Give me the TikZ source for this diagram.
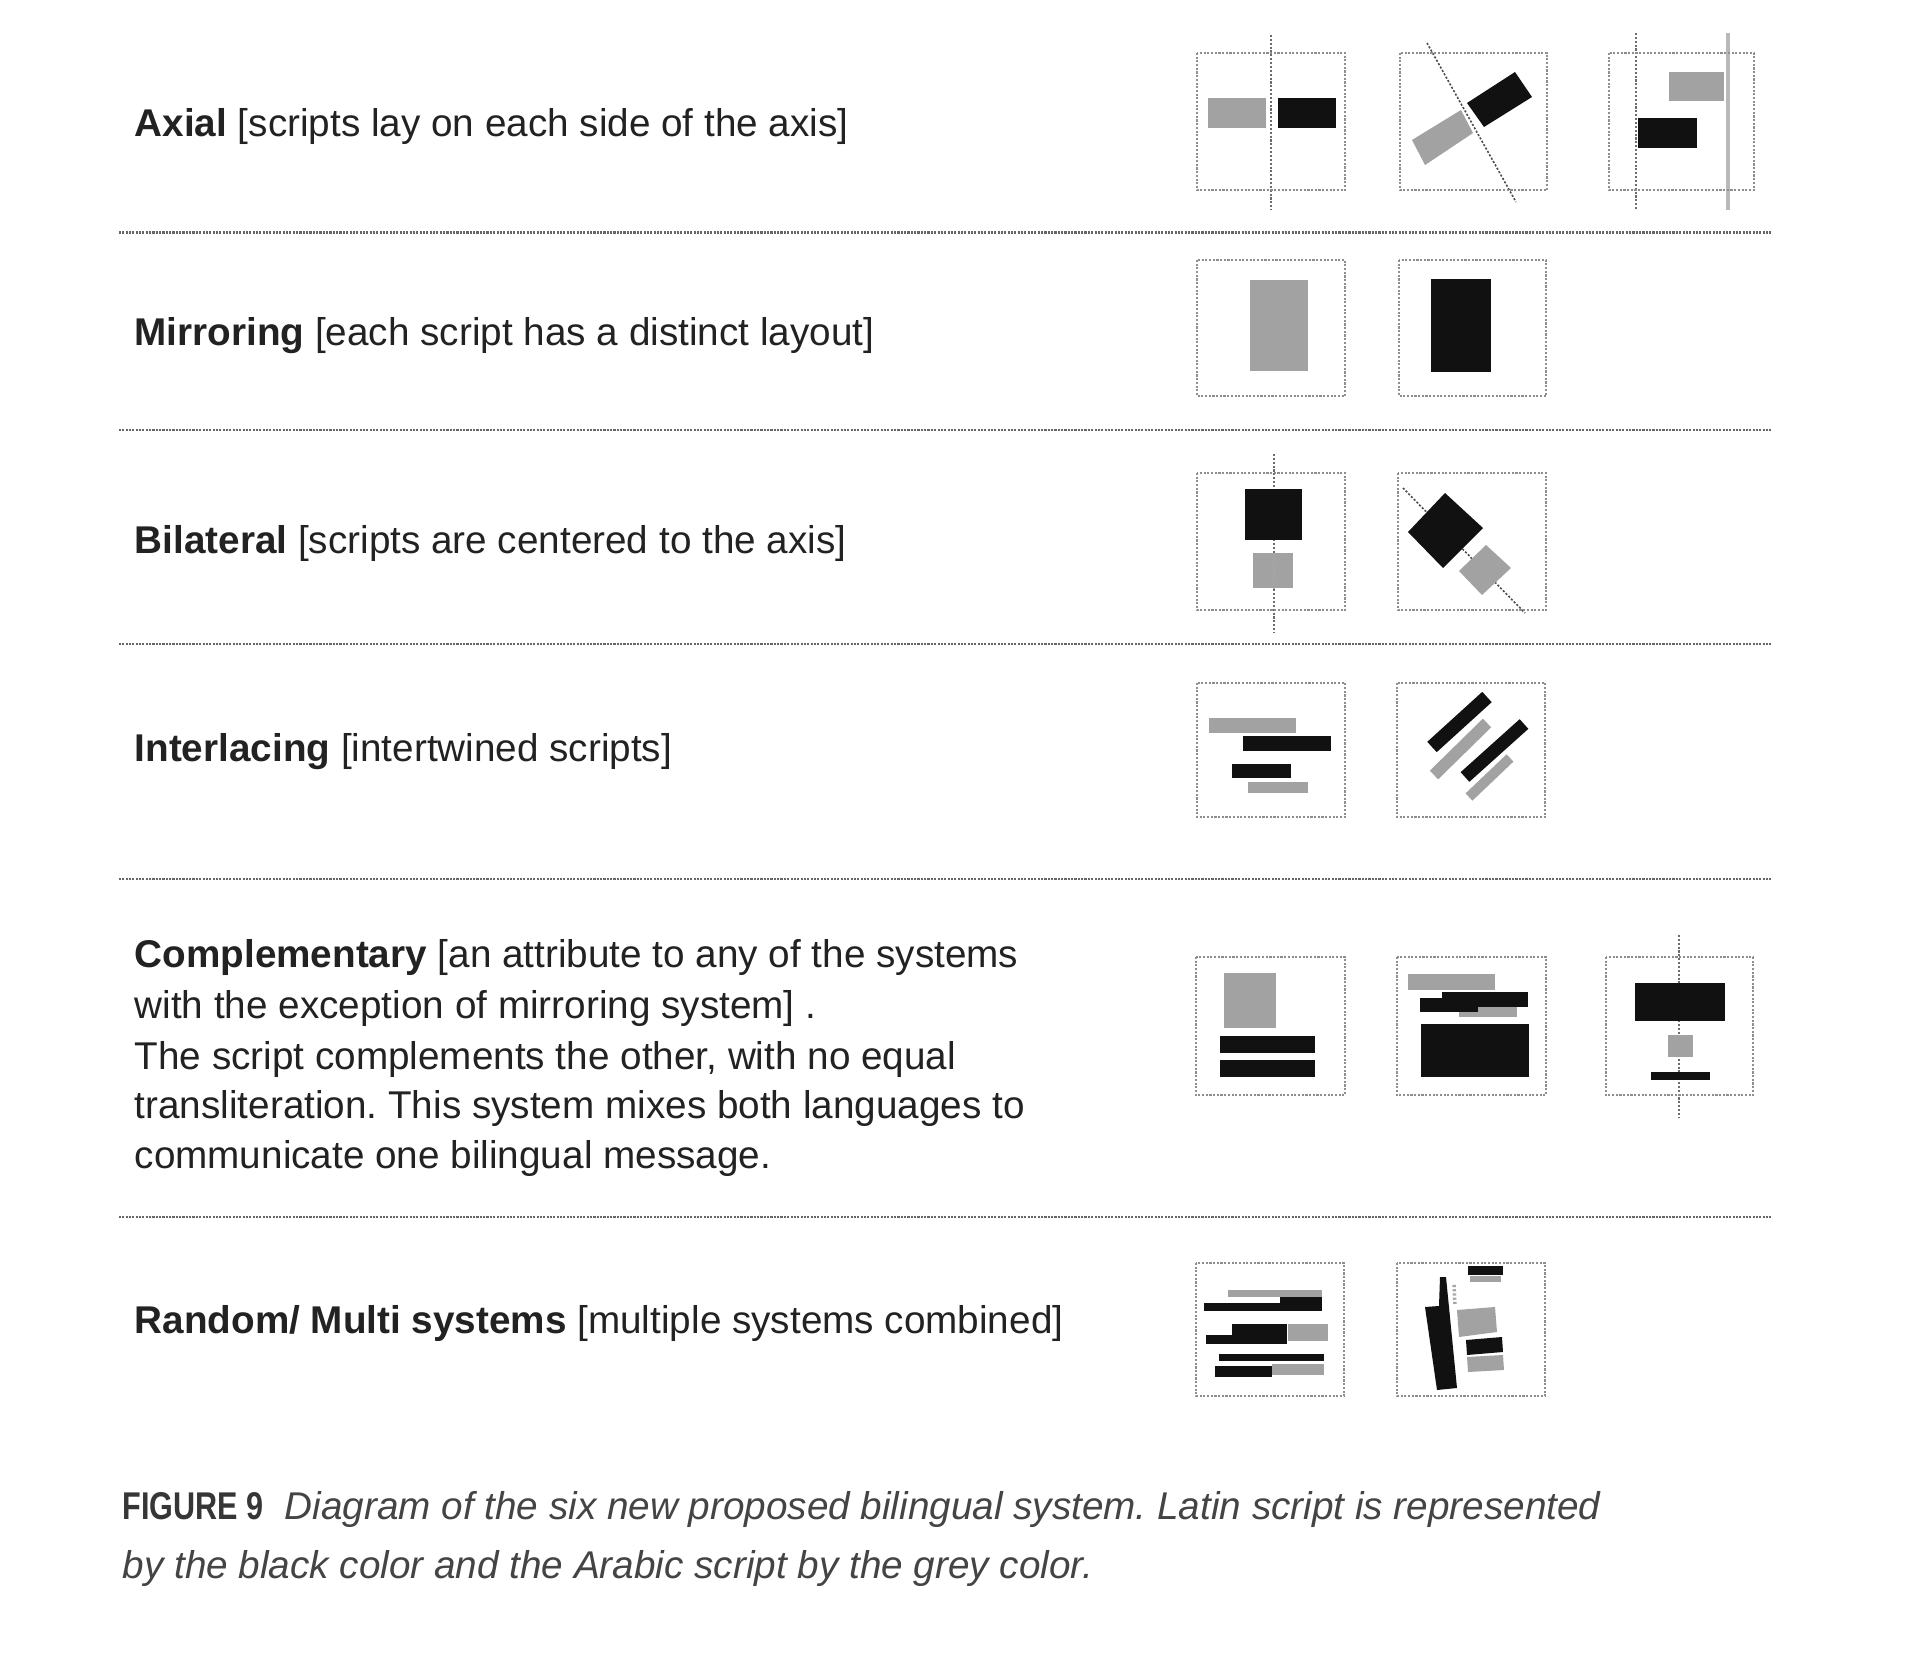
\documentclass[tikz,border=0pt]{standalone}
\usepackage{fontspec}
\setmainfont{Liberation Sans}
\usepackage{graphicx}
\frenchspacing
\definecolor{scr}{HTML}{A2A2A2}
\definecolor{ink}{HTML}{111111}
\definecolor{frame}{HTML}{8E8E8E}
\definecolor{txt}{HTML}{222222}
\definecolor{captxt}{HTML}{444444}
\tikzset{
  frm/.style={draw=frame, line width=0.6pt, dash pattern=on 0.6pt off 0.45pt},
  gs/.style={fill=scr},
  bs/.style={fill=ink},
  axisln/.style={draw=gray!85!black, line width=0.45pt, dash pattern=on 0.6pt off 0.5pt},
  axisgr/.style={draw=gray!55, line width=0.9pt},
  divln/.style={draw=gray!80!black, line width=0.85pt, dash pattern=on 0.6pt off 0.35pt},
  ttl/.style={anchor=base west, inner sep=0pt, font=\fontsize{11}{13}\selectfont, text=txt},
  captext/.style={anchor=base west, inner sep=0pt, font=\fontsize{11}{13}\selectfont\itshape, text=captxt},
  figlbl/.style={anchor=base west, inner sep=0pt, font=\fontsize{11}{13}\selectfont\bfseries, text=captxt!80!black}
}
\begin{document}
\begin{tikzpicture}[x=0.01cm, y=-0.01cm]
\useasboundingbox (0,0) rectangle (1920,1658);
\fill[white] (0,0) rectangle (1920,1658);

% ---------- texts ----------
\node[ttl] (t1) at (134,137) {\textbf{Axial} [scripts lay on each side of the axis]};
\node[ttl] (t2) at (134,346) {\textbf{Mirroring} [each script has a distinct layout]};
\node[ttl] (t3) at (134,554) {\textbf{Bilateral} [scripts are centered to the axis]};
\node[ttl] (t4) at (134,762) {\textbf{Interlacing} [intertwined scripts]};
\node[ttl] (t5a) at (134,968) {\textbf{Complementary} [an attribute to any of the systems};
\node[ttl] (t5b) at (134,1018) {with the exception of mirroring system] .};
\node[ttl] (t5c) at (134,1069) {The script complements the other, with no equal};
\node[ttl] (t5d) at (134,1119) {transliteration. This system mixes both languages to};
\node[ttl] (t5e) at (134,1169) {communicate one bilingual message.};
\node[ttl] (t6) at (134,1333) {\textbf{Random/ Multi systems} [multiple systems combined]};

\node[figlbl] (fig) at (122,1519) {\scalebox{0.79}[1]{FIGURE 9}};
\node[captext] (c1) at (284,1519) {Diagram of the six new proposed bilingual system. Latin script is represented};
\node[captext] (c2) at (122,1578) {by the black color and the Arabic script by the grey color.};

% ---------- dividers ----------
\foreach \yy in {233,430,644,879,1217}
  \draw[divln] (119,\yy) -- (1771,\yy);

% ---------- Row 1: Axial ----------
\draw[axisln] (1271,35) -- (1271,210);
\fill[gs] (1208,98) rectangle (1266,128);
\fill[bs] (1278,98) rectangle (1336,128);
\draw[frm] (1197,53) rectangle (1345,190);

\draw[axisln, draw=gray!60!black] (1427,43) -- (1516,202);
\fill[bs] (1467,103) -- (1515,72) -- (1532,97) -- (1484,127) -- cycle;
\fill[gs] (1412,140) -- (1461,110) -- (1473,133) -- (1425,165) -- cycle;
\draw[frm] (1400,53) rectangle (1547,190);

\draw[axisln] (1636,33) -- (1636,210);
\draw[axisgr] (1728,33) -- (1728,210);
\fill[gs] (1669,72) rectangle (1724,101);
\fill[bs] (1638,118) rectangle (1697,148);
\draw[frm] (1609,53) rectangle (1754,190);

% ---------- Row 2: Mirroring ----------
\fill[gs] (1250,280) rectangle (1308,371);
\draw[frm] (1197,260) rectangle (1345,396);
\fill[bs] (1431,279) rectangle (1491,372);
\draw[frm] (1399,260) rectangle (1546,396);

% ---------- Row 3: Bilateral ----------
\draw[axisln] (1274,454) -- (1274,632);
\fill[bs] (1245,489) rectangle (1302,540);
\fill[gs] (1253,553) rectangle (1293,588);
\draw[axisln, draw=gray!70, line width=0.4pt] (1274,553) -- (1274,588);
\draw[frm] (1197,473) rectangle (1345,610);

\draw[axisln, draw=gray!60!black] (1403,488) -- (1525,613);
\fill[bs] (1445,493) -- (1483,528) -- (1443,568) -- (1408,532) -- cycle;
\fill[gs] (1486,545) -- (1511,568) -- (1482,595) -- (1459,571) -- cycle;
\draw[frm] (1398,473) rectangle (1546,610);

% ---------- Row 4: Interlacing ----------
\fill[gs] (1209,718) rectangle (1296,733);
\fill[bs] (1243,736) rectangle (1331,751);
\fill[bs] (1232,764) rectangle (1291,778);
\fill[gs] (1248,782) rectangle (1308,793);
\draw[frm] (1197,683) rectangle (1345,817);

\draw[ink, line width=0.14cm] (1432,747) -- (1487,697);
\draw[scr, line width=0.12cm] (1434,775) -- (1487,723);
\draw[ink, line width=0.13cm] (1465,777) -- (1524,724);
\draw[scr, line width=0.10cm] (1469,797) -- (1510,758);
\draw[frm] (1397,683) rectangle (1545,817);

% ---------- Row 5: Complementary ----------
\fill[gs] (1224,973) rectangle (1276,1028);
\fill[bs] (1220,1036) rectangle (1315,1053);
\fill[bs] (1220,1060) rectangle (1315,1077);
\draw[frm] (1196,957) rectangle (1345,1095);

\fill[gs] (1408,974) rectangle (1495,990);
\fill[gs] (1459,1004) rectangle (1517,1017);
\fill[bs] (1442,992) rectangle (1528,1007);
\fill[bs] (1420,998) rectangle (1478,1012);
\fill[bs] (1421,1024) rectangle (1529,1077);
\draw[frm] (1397,957) rectangle (1546,1095);

\draw[axisln] (1679,935) -- (1679,1117);
\fill[bs] (1635,983) rectangle (1725,1021);
\fill[gs] (1668,1035) rectangle (1693,1057);
\fill[bs] (1651,1072) rectangle (1710,1080);
\draw[frm] (1606,957) rectangle (1753,1095);

% ---------- Row 6: Random / Multi ----------
\fill[gs] (1228,1290) rectangle (1322,1297);
\fill[bs] (1204,1303) rectangle (1322,1311);
\fill[bs] (1280,1297) rectangle (1322,1311);
\fill[bs] (1206,1335) rectangle (1287,1344);
\fill[bs] (1232,1324) rectangle (1287,1344);
\fill[gs] (1288,1324) rectangle (1328,1341);
\fill[bs] (1219,1354) rectangle (1324,1361);
\fill[gs] (1272,1364) rectangle (1324,1375);
\fill[bs] (1215,1366) rectangle (1272,1377);
\draw[frm] (1196,1263) rectangle (1344,1396);

\fill[bs] (1468,1266) rectangle (1503,1275);
\fill[gs] (1470,1276) rectangle (1501,1282);
\fill[bs] (1425,1307) -- (1439,1306) -- (1440,1277) -- (1446,1277) -- (1457,1388) -- (1437,1390) -- cycle;
\draw[gray!70, line width=1pt, dash pattern=on 0.6pt off 0.6pt] (1454,1285) -- (1455,1305);
\fill[gs] (1457,1310) -- (1495,1307) -- (1497,1332) -- (1459,1337) -- cycle;
\fill[bs] (1466,1340) -- (1502,1337) -- (1503,1352) -- (1467,1355) -- cycle;
\fill[gs] (1467,1357) -- (1503,1355) -- (1504,1370) -- (1468,1372) -- cycle;
\draw[frm] (1397,1263) rectangle (1545,1396);
\end{tikzpicture}
\end{document}
